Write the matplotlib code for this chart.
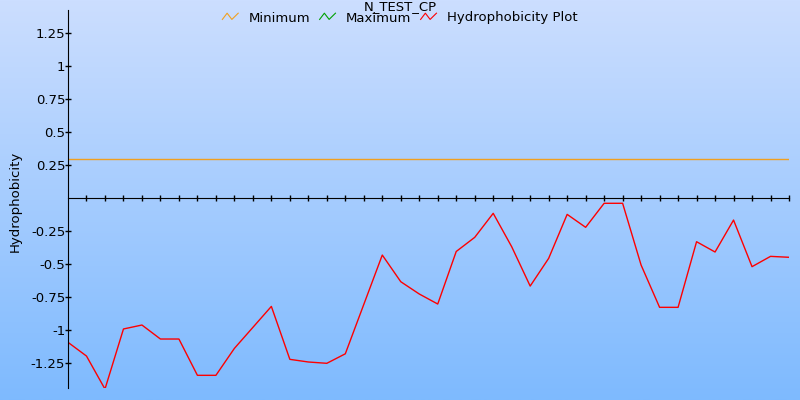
import numpy as np
import matplotlib
matplotlib.use("Agg")
import matplotlib.pyplot as plt
from matplotlib.lines import Line2D
from matplotlib.legend_handler import HandlerBase

plt.rcParams['font.family'] = ['DejaVu Sans']

# ---- data ----
positions = list(range(40))
hydrophobicity = [-1.093, -1.197, -1.447, -0.992, -0.962, -1.068, -1.068, -1.343, -1.343, -1.139,
                  -0.980, -0.821, -1.222, -1.242, -1.252, -1.180, -0.806, -0.432, -0.634, -0.727,
                  -0.803, -0.405, -0.298, -0.116, -0.369, -0.667, -0.457, -0.124, -0.222, -0.040,
                  -0.040, -0.508, -0.828, -0.828, -0.331, -0.409, -0.167, -0.520, -0.442, -0.449]
minimum_value = 0.293
ytick_values = [-1.25, -1.0, -0.75, -0.5, -0.25, 0.25, 0.5, 0.75, 1.0, 1.25]
ytick_labels = ['-1.25', '-1', '-0.75', '-0.5', '-0.25', '0.25', '0.5', '0.75', '1', '1.25']
title = 'N_TEST_CP'
series_names = ['Minimum', 'Maximum', 'Hydrophobicity Plot']
series_colors = ['#f0a020', '#00a000', '#ff0000']

FS = 9.5

fig = plt.figure(figsize=(8, 4), dpi=100)

# background gradient
bg = fig.add_axes([0, 0, 1, 1], zorder=-10)
top = np.array([204, 222, 255]) / 255
bot = np.array([126, 186, 254]) / 255
t = np.linspace(0, 1, 256)[:, None]
grad = (top[None, :] * (1 - t) + bot[None, :] * t)[:, None, :]
bg.imshow(grad, aspect='auto', extent=[0, 1, 0, 1])
bg.axis('off')

ax = fig.add_axes([68 / 800, 12 / 400, (789 - 68) / 800, (390 - 12) / 400])
ax.set_facecolor('none')
ax.plot(positions, hydrophobicity, color=series_colors[2], lw=1.0)
ax.axhline(minimum_value, color=series_colors[0], lw=1.0)

ax.set_xlim(0, 39)
ax.set_ylim(-1.439, 1.424)
ax.spines['top'].set_visible(False)
ax.spines['right'].set_visible(False)
ax.spines['bottom'].set_position(('data', 0))
ax.spines['left'].set_color('black')
ax.spines['bottom'].set_color('black')
ax.set_xticks(positions[1:])
ax.set_xticklabels([])
ax.set_yticks(ytick_values)
ax.set_yticklabels(ytick_labels)
ax.tick_params(axis='both', direction='inout', length=4, width=1, colors='black', labelsize=FS)
ax.tick_params(axis='y', pad=0)

fig.text(0.019, 0.496, 'Hydrophobicity', rotation=90, ha='center', va='center', fontsize=FS)
fig.text(0.5, 1.0, title, ha='center', va='top', fontsize=FS)


class ZigZag(HandlerBase):
    def create_artists(self, legend, orig_handle, xdescent, ydescent, width, height, fontsize, trans):
        xs = np.array([0.0, 0.3, 0.6, 1.0]) * width - xdescent
        ys = np.array([0.25, 1.0, 0.25, 1.0]) * height * 0.9 - ydescent
        ln = Line2D(xs, ys, color=orig_handle.get_color(), lw=0.8, transform=trans)
        return [ln]


handles = [Line2D([], [], color=c) for c in series_colors]
fig.legend(handles, series_names, handler_map={Line2D: ZigZag()}, loc='center',
           bbox_to_anchor=(0.5, 1 - 18 / 400), ncol=3, frameon=False, fontsize=FS,
           handlelength=1.2, handletextpad=0.8, columnspacing=0.7, borderpad=0, borderaxespad=0)

fig.savefig('out.png', dpi=100)
